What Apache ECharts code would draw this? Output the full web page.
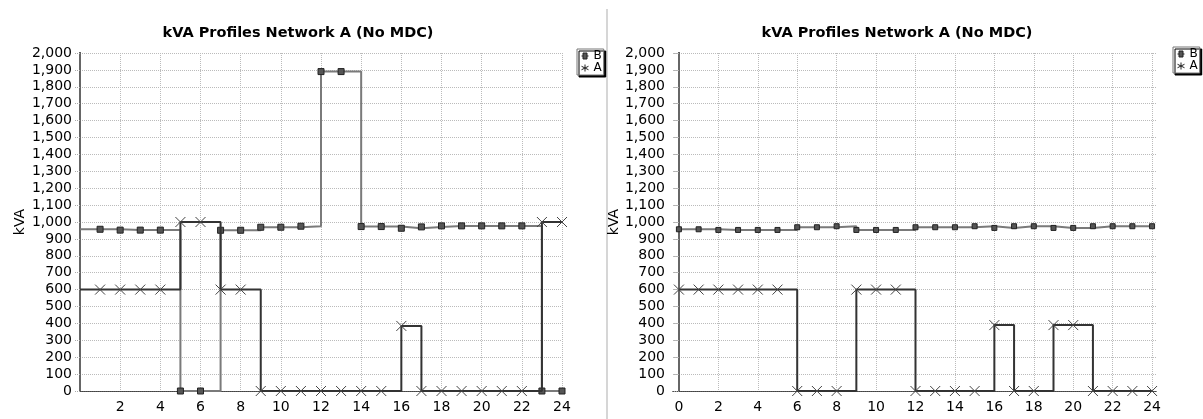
<!DOCTYPE html>
<html><head><meta charset="utf-8">
<script src="https://cdn.jsdelivr.net/npm/echarts@6/dist/echarts.min.js"></script>
<style>html,body{margin:0;padding:0;background:#fff}#c{width:1203px;height:419px}</style>
</head><body><div id="c"></div>
<script>
const titleText = 'kVA Profiles Network A (No MDC)';
const hours = [0,1,2,3,4,5,6,7,8,9,10,11,12,13,14,15,16,17,18,19,20,21,22,23,24];
const leftB  = [957,957,952,952,952,0,0,951,951,969,969,975,1890,1890,973,973,963,971,977,977,977,977,977,0,0];
const leftA  = [600,600,600,600,600,1000,1000,600,600,0,0,0,0,0,0,0,385,0,0,0,0,0,0,1000,1000];
const rightB = [957,957,953,953,953,953,969,969,975,953,953,953,969,969,969,975,965,975,975,965,965,975,975,975,975];
const rightA = [600,600,600,600,600,600,0,0,0,600,600,600,0,0,0,0,390,0,0,390,390,0,0,0,0];
const xTicksLeft  = [2,4,6,8,10,12,14,16,18,20,22,24];
const xTicksRight = [0,2,4,6,8,10,12,14,16,18,20,22,24];

const FONT = 'DejaVu Sans';
const fmtY = v => String(v).replace(/\B(?=(\d{3})+(?!\d))/g, ',');
const XPATH = 'path://M0,0L10,10M10,0L0,10';
const BICON = 'path://M0,4L1.5,4M1.5,1L5.5,1L5.5,7L1.5,7ZM5.5,4L7,4';
const AICON = 'path://M4,0L4,8M0,2L8,6M0,6L8,2';

function mkData(vals, hideFirst) {
  return hours.map((h, i) => (hideFirst && i === 0) ? {value: [h, vals[i]], symbol: 'none'} : [h, vals[i]]);
}
function seriesB(vals, idx, hideFirst, size) {
  return {name: 'B', type: 'line', step: 'end', xAxisIndex: idx * 2, yAxisIndex: idx * 2,
    data: mkData(vals, hideFirst), symbol: 'rect', symbolSize: size, showAllSymbol: true,
    itemStyle: {color: '#555', borderColor: '#222', borderWidth: 1},
    lineStyle: {color: '#7a7a7a', width: 2}, z: 3};
}
function seriesA(vals, idx, hideFirst) {
  return {name: 'A', type: 'line', step: 'end', xAxisIndex: idx * 2, yAxisIndex: idx * 2,
    data: mkData(vals, hideFirst), symbol: XPATH, symbolSize: 10, showAllSymbol: true,
    itemStyle: {color: 'none', borderColor: '#444', borderWidth: 1},
    lineStyle: {color: '#333', width: 2}, z: 4};
}
function yAxes(gi) {
  return [{
    gridIndex: gi, type: 'value', min: 0, max: 2000, interval: 100,
    name: 'kVA', nameLocation: 'middle', nameRotate: 90, nameGap: gi === 0 ? 53 : 50,
    nameTextStyle: {fontFamily: FONT, fontSize: 14, color: '#000'},
    axisLine: {show: true, lineStyle: {color: '#000', width: 2}},
    axisTick: {show: true, length: 5, lineStyle: {color: '#aaa', type: 'dotted'}},
    axisLabel: {fontFamily: FONT, fontSize: 14, color: '#000', margin: 8, formatter: fmtY},
    splitLine: {show: true, lineStyle: {color: '#bbb', type: 'dotted', width: 1}}
  }, {
    gridIndex: gi, type: 'value', min: 0, max: 2000, position: 'right',
    axisLine: {show: true, lineStyle: {color: '#888', width: 1.5}},
    axisTick: {show: false}, axisLabel: {show: false}, splitLine: {show: false}
  }];
}
const xLeft = [{
  gridIndex: 0, type: 'value', min: 0, max: 24, interval: 2,
  axisLine: {show: true, lineStyle: {color: '#333', type: 'dotted', width: 1}},
  axisTick: {show: false},
  axisLabel: {fontFamily: FONT, fontSize: 14, color: '#000', margin: 9, customValues: xTicksLeft},
  splitLine: {show: true, lineStyle: {color: '#bbb', type: 'dotted', width: 1}}
}, {
  gridIndex: 0, type: 'value', min: 0, max: 24, position: 'top',
  axisLine: {show: true, lineStyle: {color: '#444', type: 'dotted', width: 1}},
  axisTick: {show: false}, axisLabel: {show: false}, splitLine: {show: false}
}];
const xRight = [{
  gridIndex: 1, type: 'value', min: -0.3, max: 24.25,
  axisLine: {show: true, lineStyle: {color: '#333', type: 'dotted', width: 1}},
  axisTick: {show: false, customValues: xTicksRight},
  axisLabel: {fontFamily: FONT, fontSize: 14, color: '#000', margin: 9, customValues: xTicksRight},
  splitLine: {show: true, lineStyle: {color: '#bbb', type: 'dotted', width: 1}}
}, {
  gridIndex: 1, type: 'value', min: -0.3, max: 24.25, position: 'top',
  axisLine: {show: true, lineStyle: {color: '#444', type: 'dotted', width: 1}},
  axisTick: {show: false}, axisLabel: {show: false}, splitLine: {show: false}
}];
function legend(left, top) {
  return {left: left, top: top, orient: 'vertical', padding: [1, 2, 1, 2], itemGap: 0,
    itemWidth: 7, itemHeight: 8, itemTextGap: 1,
    textStyle: {fontFamily: FONT, fontSize: 12, color: '#000', lineHeight: 11},
    backgroundColor: '#fff', borderColor: '#777', borderWidth: 1,
    shadowColor: '#000', shadowBlur: 0.1, shadowOffsetX: 2, shadowOffsetY: 2,
    data: [
      {name: 'B', icon: BICON, itemStyle: {color: '#555', borderColor: '#222', borderWidth: 1}},
      {name: 'A', icon: AICON, itemStyle: {color: 'none', borderColor: '#222', borderWidth: 1}}
    ]};
}

const chart = echarts.init(document.getElementById('c'), null, {renderer: 'canvas'});
const titleStyle = {fontFamily: FONT, fontSize: 14.5, fontWeight: 'bold', color: '#000'};
chart.setOption({
  animation: false,
  backgroundColor: '#fff',
  title: [
    {text: titleText, left: 298, top: 26, textAlign: 'center', padding: 0, textStyle: titleStyle},
    {text: titleText, left: 897, top: 26, textAlign: 'center', padding: 0, textStyle: titleStyle}
  ],
  legend: [legend(577, 49), legend(1173, 47)],
  grid: [
    {left: 80, width: 482, top: 53, bottom: 28, containLabel: false},
    {left: 673, width: 484, top: 53, bottom: 28, containLabel: false}
  ],
  xAxis: xLeft.concat(xRight),
  yAxis: yAxes(0).concat(yAxes(1)),
  graphic: [{type: 'line', shape: {x1: 607, y1: 9, x2: 607, y2: 419}, style: {stroke: '#c8c8c8', lineWidth: 1.5}}],
  series: [
    seriesB(leftB, 0, true, 6), seriesA(leftA, 0, true),
    seriesB(rightB, 1, false, 5), seriesA(rightA, 1, false)
  ]
});
</script></body></html>
